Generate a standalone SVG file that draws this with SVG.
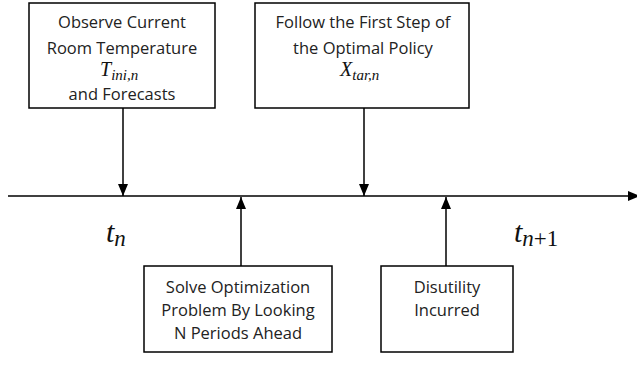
<svg xmlns="http://www.w3.org/2000/svg" width="637" height="366" viewBox="0 0 637 366">
<style>
.box{fill:#fff;stroke:#000;stroke-width:1.5}
.t{font-family:"Open Sans","Liberation Sans",sans-serif;font-size:16.5px;fill:#222;text-anchor:middle}
.m{font-family:"Liberation Serif","DejaVu Serif",serif;font-style:italic;fill:#111}
.u{font-style:normal}
.c{stroke:#000;stroke-width:1.5;fill:none}
</style>
<defs>
<marker id="ah" viewBox="0 0 12 10" refX="12" refY="5" markerWidth="12" markerHeight="10" markerUnits="userSpaceOnUse" orient="auto">
<path d="M0,0 L12,5 L0,10 Z" fill="#000"/>
</marker>
</defs>
<rect width="637" height="366" fill="#fff"/>
<g id="connectors">
<line class="c" x1="8" y1="196" x2="640" y2="196" marker-end="url(#ah)"/>
<line class="c" x1="123" y1="108" x2="123" y2="196" marker-end="url(#ah)"/>
<line class="c" x1="364" y1="108" x2="364" y2="196" marker-end="url(#ah)"/>
<line class="c" x1="241" y1="266" x2="241" y2="197" marker-end="url(#ah)"/>
<line class="c" x1="446" y1="266" x2="446" y2="197" marker-end="url(#ah)"/>
</g>
<g id="observe">
<rect class="box" x="29" y="3" width="186" height="105"/>
<text class="t" x="122" y="28">Observe Current</text>
<text class="t" x="122" y="54">Room Temperature</text>
<text class="m" x="100" y="76" font-size="20">T<tspan font-size="15" dy="4">ini,n</tspan></text>
<text class="t" x="122" y="100">and Forecasts</text>
</g>
<g id="follow">
<rect class="box" x="255" y="3" width="214" height="105"/>
<text class="t" x="363" y="28">Follow the First Step of</text>
<text class="t" x="363" y="54">the Optimal Policy</text>
<text class="m" x="340" y="76" font-size="20">X<tspan font-size="15" dy="4">tar,n</tspan></text>
</g>
<g id="tn">
<text class="m" x="106" y="242" font-size="30">t<tspan font-size="23" dy="4">n</tspan></text>
</g>
<g id="tn1">
<text class="m" x="514" y="242" font-size="30">t<tspan font-size="23" dy="4">n<tspan class="u">+1</tspan></tspan></text>
</g>
<g id="solve">
<rect class="box" x="144" y="266" width="188" height="86"/>
<text class="t" x="238" y="293">Solve Optimization</text>
<text class="t" x="238" y="316">Problem By Looking</text>
<text class="t" x="238" y="339">N Periods Ahead</text>
</g>
<g id="disutility">
<rect class="box" x="381" y="266" width="132" height="86"/>
<text class="t" x="447" y="293">Disutility</text>
<text class="t" x="447" y="316">Incurred</text>
</g>
</svg>
